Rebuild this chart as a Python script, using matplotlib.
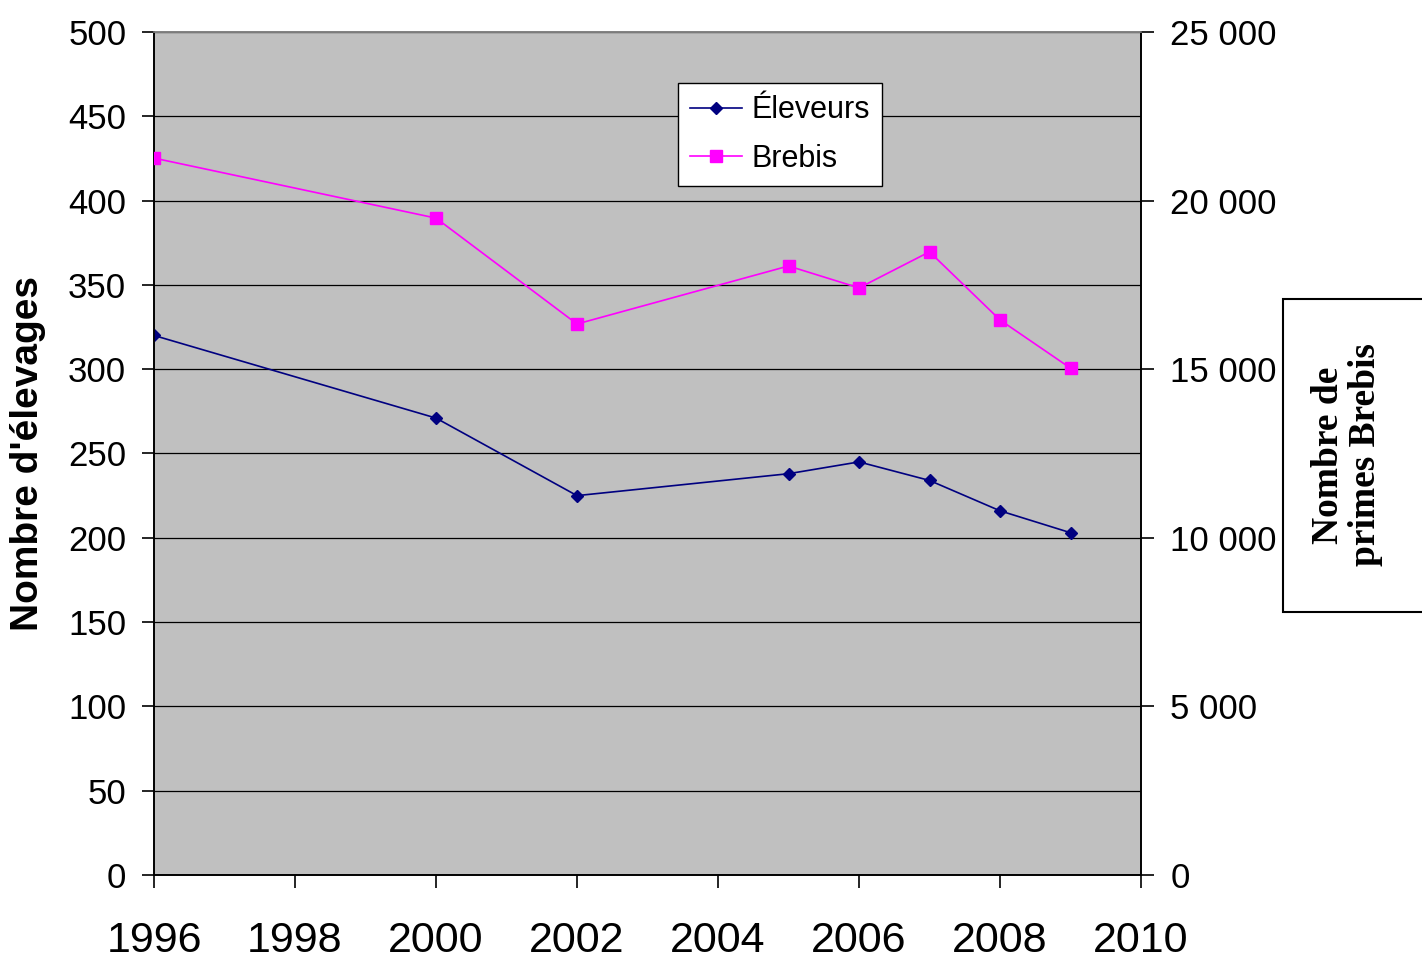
import matplotlib.pyplot as plt
from matplotlib.ticker import FuncFormatter
from matplotlib.patches import Rectangle

# Données
annees_eleveurs = [1996, 2000, 2002, 2005, 2006, 2007, 2008, 2009]
eleveurs = [320, 271, 225, 238, 245, 234, 216, 203]

annees_brebis = [1996, 2000, 2002, 2005, 2006, 2007, 2008, 2009]
brebis = [21260, 19480, 16340, 18060, 17410, 18480, 16460, 15030]

x_ticks = [1996, 1998, 2000, 2002, 2004, 2006, 2008, 2010]
y_ticks = list(range(0, 501, 50))
y2_ticks = list(range(0, 25001, 5000))

plt.rcParams["font.family"] = ["Liberation Sans", "DejaVu Sans"]

fig = plt.figure(figsize=(14.22, 9.63), dpi=100)
ax = fig.add_axes([0.1083, 0.0914, 0.6941, 0.8754])
ax.set_facecolor("#C0C0C0")

ax.set_xlim(1996, 2010)
ax.set_ylim(0, 500)
ax.set_xticks(x_ticks)
ax.set_yticks(y_ticks)
ax.grid(axis="y", color="black", linewidth=0.9)
ax.set_axisbelow(True)

l1, = ax.plot(annees_eleveurs, eleveurs, color="#000080", marker="D",
              markersize=6.5, linewidth=1.2, label="Éleveurs", zorder=3)

ax2 = ax.twinx()
ax2.set_ylim(0, 25000)
ax2.set_yticks(y2_ticks)
ax2.yaxis.set_major_formatter(
    FuncFormatter(lambda v, p: f"{int(v):,}".replace(",", " ")))
l2, = ax2.plot(annees_brebis, brebis, color="#FF00FF", marker="s",
               markersize=8, linewidth=1.2, label="Brebis", zorder=3)

for a in (ax, ax2):
    a.spines["top"].set_color("#808080")
    a.spines["left"].set_color("black")
    a.spines["right"].set_color("black")
    a.spines["bottom"].set_color("black")
    for s in a.spines.values():
        s.set_linewidth(1.2)

ax.tick_params(axis="y", labelsize=25, length=9, width=1.2, pad=11)
ax.tick_params(axis="x", labelsize=31, length=9, width=1.2, pad=24)
ax2.tick_params(axis="y", labelsize=25, length=9, width=1.2, pad=12)

ax.set_ylabel("Nombre d'élevages", fontsize=28, fontweight="bold")
ax.yaxis.set_label_coords(-0.109, 0.5)

leg = ax2.legend(handles=[l1, l2], loc="upper left",
                 bbox_to_anchor=(678 / 1422, 1 - 83 / 963),
                 bbox_transform=fig.transFigure, fontsize=22,
                 frameon=True, fancybox=False, edgecolor="black",
                 framealpha=1, borderpad=0.4, borderaxespad=0,
                 handlelength=1.7, handletextpad=0.3, labelspacing=0.6)
leg.get_frame().set_linewidth(1.0)

# Boîte du titre de l'axe de droite
fig.patches.append(Rectangle((1283 / 1422, 1 - 612 / 963), 0.2, 313 / 963,
                             transform=fig.transFigure, facecolor="white",
                             edgecolor="black", linewidth=1.5))
fig.text(1347 / 1422, 1 - 455 / 963, "Nombre de\nprimes Brebis",
         rotation=90, ha="center", va="center", multialignment="center",
         fontsize=27, fontweight="bold",
         family=["Liberation Serif", "DejaVu Serif"], linespacing=1.05)

plt.savefig("out.png", dpi=100)
plt.close()
